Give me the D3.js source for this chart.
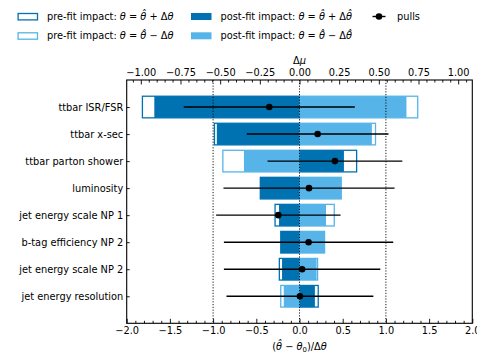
<!DOCTYPE html>
<html>
<head>
<meta charset="utf-8">
<script src="https://cdn.jsdelivr.net/npm/d3@7"></script>
<style>
  html, body { margin: 0; padding: 0; background: #fff; }
  svg { display: block; font-family: "DejaVu Sans", sans-serif; }
  .tick text { font-family: "DejaVu Sans", sans-serif; fill: #000; }
</style>
</head>
<body>
<svg id="chart" width="477" height="355"></svg>
<script>
// ---- data ----
const labels = ["ttbar ISR/FSR", "ttbar x-sec", "ttbar parton shower", "luminosity",
  "jet energy scale NP 1", "b-tag efficiency NP 2", "jet energy scale NP 2", "jet energy resolution"];
const prefitUp    = [-0.990, -0.536,  0.360, -0.247, -0.154, -0.118, -0.127,  0.118];
const prefitDown  = [ 0.745,  0.479, -0.483,  0.263,  0.219,  0.158,  0.114, -0.118];
const postfitUp   = [-0.915, -0.521,  0.280, -0.247, -0.129, -0.118, -0.110,  0.097];
const postfitDown = [ 0.674,  0.456, -0.350,  0.263,  0.167,  0.158,  0.108, -0.099];
const pulls       = [-0.350,  0.210,  0.410,  0.110, -0.245,  0.105,  0.030,  0.005];
const pullErr     = [ 0.990,  0.820,  0.780,  0.990,  0.720,  0.980,  0.905,  0.850];
const pullTicks   = [-2.0, -1.5, -1.0, -0.5, 0.0, 0.5, 1.0, 1.5, 2.0];
const impactTicks = [-1.0, -0.75, -0.5, -0.25, 0.0, 0.25, 0.5, 0.75, 1.0];

const darkBlue = "#0072B2", lightBlue = "#56B4E9";
const FS = 9.8;

const svg = d3.select("#chart");
const L = 126.7, R = 472.3, T = 80, B = 323.3;

const maxImpact = d3.max([...prefitUp, ...prefitDown, ...postfitUp, ...postfitDown], d => Math.abs(d));
const x = d3.scaleLinear().domain([-2, 2]).range([L, R]);
const xTop = d3.scaleLinear().domain([-maxImpact * 1.1, maxImpact * 1.1]).range([L, R]);
const y = d3.scaleLinear().domain([-1, labels.length]).range([T, B]);
const idx = d3.range(labels.length);
const barH = y(0.4) - y(-0.4);

// ---- bars ----
const g = svg.append("g");
function bars(vals, filled, color) {
  g.selectAll(null).data(idx).enter().append("rect")
    .attr("x", i => Math.min(xTop(0), xTop(vals[i])))
    .attr("width", i => Math.abs(xTop(vals[i]) - xTop(0)))
    .attr("y", i => y(i) - barH / 2)
    .attr("height", barH)
    .attr("fill", filled ? color : "none")
    .attr("stroke", filled ? "none" : color)
    .attr("stroke-width", filled ? 0 : 1.3);
}
bars(prefitUp, false, darkBlue);
bars(prefitDown, false, lightBlue);
bars(postfitUp, true, darkBlue);
bars(postfitDown, true, lightBlue);

// ---- vertical dotted lines ----
svg.selectAll(null).data([-1, 0, 1]).enter().append("line")
  .attr("x1", d => x(d)).attr("x2", d => x(d))
  .attr("y1", T).attr("y2", B)
  .attr("stroke", "#000").attr("stroke-width", 0.9)
  .attr("stroke-dasharray", "1.2,1.6");

// ---- pulls ----
svg.selectAll(null).data(idx).enter().append("line")
  .attr("x1", i => x(pulls[i] - pullErr[i])).attr("x2", i => x(pulls[i] + pullErr[i]))
  .attr("y1", i => y(i)).attr("y2", i => y(i))
  .attr("stroke", "#000").attr("stroke-width", 1.4);
svg.selectAll(null).data(idx).enter().append("circle")
  .attr("cx", i => x(pulls[i])).attr("cy", i => y(i)).attr("r", 3.3)
  .attr("fill", "#000");

// ---- axes ----
function styleAxis(sel) {
  sel.select(".domain").remove();
  sel.selectAll(".tick line").attr("stroke", "#000").attr("stroke-width", 0.9);
  sel.selectAll(".tick text").attr("font-size", FS);
}
const minorBottom = d3.range(-2, 2.0001, 0.1).map(v => +v.toFixed(2)).filter(v => !pullTicks.some(t => Math.abs(t - v) < 1e-6));
const minorTop = d3.range(-1.05, 1.0501, 0.05).map(v => +v.toFixed(2)).filter(v => !impactTicks.some(t => Math.abs(t - v) < 1e-6) && xTop(v) >= L && xTop(v) <= R);

svg.append("g").attr("transform", `translate(0,${B})`)
  .call(d3.axisBottom(x).tickValues(pullTicks).tickFormat(d3.format(".1f")).tickSize(-4.5).tickPadding(3.5))
  .call(styleAxis);
svg.append("g").attr("transform", `translate(0,${B})`)
  .call(d3.axisBottom(x).tickValues(minorBottom).tickFormat("").tickSize(-2.5))
  .call(styleAxis);
svg.append("g").attr("transform", `translate(0,${T})`)
  .call(d3.axisTop(xTop).tickValues(impactTicks).tickFormat(d3.format(".2f")).tickSize(-4.5).tickPadding(4))
  .call(styleAxis);
svg.append("g").attr("transform", `translate(0,${T})`)
  .call(d3.axisTop(xTop).tickValues(minorTop).tickFormat("").tickSize(-2.5))
  .call(styleAxis);
svg.append("g").attr("transform", `translate(${L},0)`)
  .call(d3.axisLeft(y).tickValues(idx).tickFormat(i => labels[i]).tickSize(-3).tickPadding(3.5))
  .call(styleAxis);

// frame
svg.append("rect").attr("x", L).attr("y", T).attr("width", R - L).attr("height", B - T)
  .attr("fill", "none").attr("stroke", "#000").attr("stroke-width", 1.1);

// axis labels
svg.append("text").attr("x", x(0)).attr("y", 64).attr("text-anchor", "middle").attr("font-size", FS)
  .call(t => {
    t.append("tspan").text("Δ");
    t.append("tspan").attr("font-style", "italic").text("μ");
  });
svg.append("text").attr("x", x(0)).attr("y", 349.5).attr("text-anchor", "middle").attr("font-size", FS)
  .call(t => {
    t.append("tspan").text("(");
    t.append("tspan").attr("font-style", "italic").text("θ\u0302");
    t.append("tspan").text(" − ");
    t.append("tspan").attr("font-style", "italic").text("θ");
    t.append("tspan").attr("font-size", FS * 0.7).attr("dy", 2).text("0");
    t.append("tspan").attr("dy", -2).text(")/Δ");
    t.append("tspan").attr("font-style", "italic").text("θ");
  });

// ---- legend ----
const leg = svg.append("g");
function mathLabel(t, prefix, sign, hatDelta) {
  t.append("tspan").text(prefix);
  t.append("tspan").attr("font-style", "italic").text("θ");
  t.append("tspan").text(" = ");
  t.append("tspan").attr("font-style", "italic").text("θ\u0302");
  t.append("tspan").text(" " + sign + " Δ");
  t.append("tspan").attr("font-style", "italic").text(hatDelta ? "θ\u0302" : "θ");
}
const legendItems = [
  {x: 17.5, y: 16.5, type: "outline", color: darkBlue, prefix: "pre-fit impact: ", sign: "+", hat: false},
  {x: 17.5, y: 35.8, type: "outline", color: lightBlue, prefix: "pre-fit impact: ", sign: "−", hat: false},
  {x: 191, y: 16.5, type: "fill", color: darkBlue, prefix: "post-fit impact: ", sign: "+", hat: true},
  {x: 191, y: 35.8, type: "fill", color: lightBlue, prefix: "post-fit impact: ", sign: "−", hat: true}
];
legendItems.forEach(d => {
  if (d.type === "outline") {
    leg.append("rect").attr("x", d.x + 0.6).attr("y", d.y - 3).attr("width", 19.4).attr("height", 6.4)
      .attr("fill", "none").attr("stroke", d.color).attr("stroke-width", 1.3);
  } else {
    leg.append("rect").attr("x", d.x).attr("y", d.y - 3.5).attr("width", 20.5).attr("height", 7)
      .attr("fill", d.color);
  }
  leg.append("text").attr("x", d.x + 29.5).attr("y", d.y + 3.5).attr("font-size", FS)
    .call(t => mathLabel(t, d.prefix, d.sign, d.hat));
});
leg.append("line").attr("x1", 372.5).attr("x2", 385.5).attr("y1", 16.5).attr("y2", 16.5)
  .attr("stroke", "#000").attr("stroke-width", 1.4);
leg.append("circle").attr("cx", 379).attr("cy", 16.5).attr("r", 3.3).attr("fill", "#000");
leg.append("text").attr("x", 397).attr("y", 20).attr("font-size", FS).text("pulls");
</script>
</body>
</html>
